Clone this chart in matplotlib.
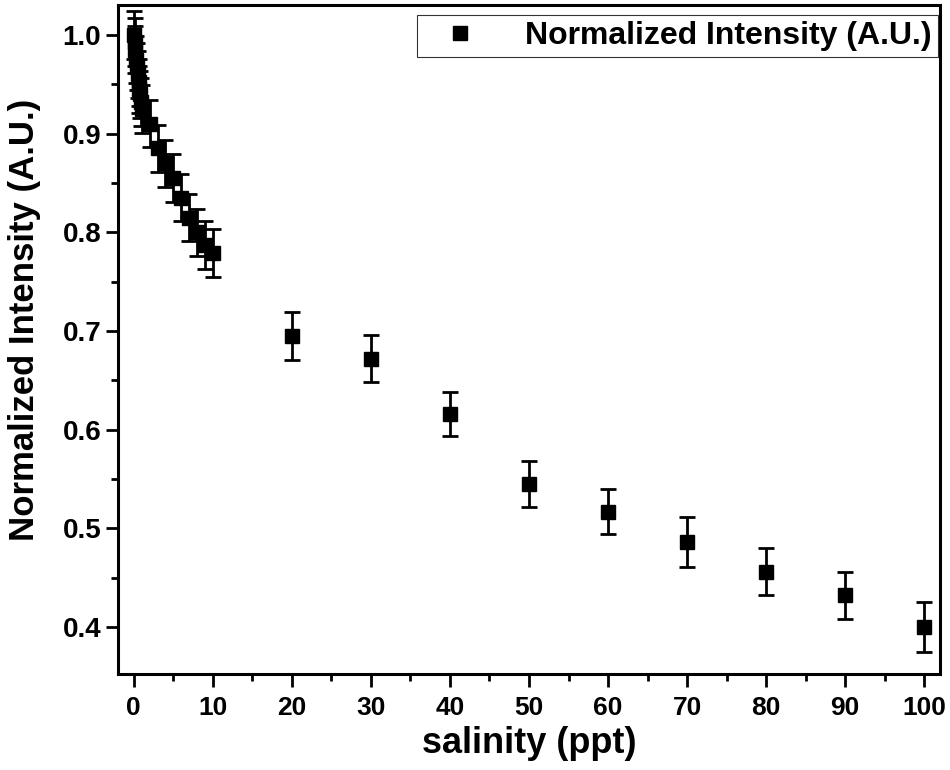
import matplotlib
matplotlib.use('Agg')
import matplotlib.pyplot as plt
from matplotlib.ticker import MultipleLocator, FormatStrFormatter
from matplotlib.lines import Line2D

plt.rcParams['font.family'] = ['Liberation Sans', 'DejaVu Sans']
plt.rcParams['font.weight'] = 'bold'

# salinity (ppt) and normalized intensity
salinity = [0, 0.1, 0.2, 0.3, 0.4, 0.5, 0.6, 0.7, 0.8, 0.9, 1.0,
            2, 3, 4, 5, 6, 7, 8, 9, 10,
            20, 30, 40, 50, 60, 70, 80, 90, 100]
intensity = [1.0, 0.993, 0.985, 0.975, 0.968, 0.96, 0.952, 0.945, 0.94, 0.932, 0.925,
             0.91, 0.885, 0.87, 0.855, 0.835, 0.815, 0.80, 0.787, 0.779,
             0.695, 0.672, 0.616, 0.545, 0.517, 0.486, 0.456, 0.432, 0.400]
error = [0.024] * 20 + [0.024, 0.024, 0.022, 0.023, 0.023, 0.025, 0.024, 0.024, 0.025]

fig = plt.figure(figsize=(9.5, 7.7), dpi=100)
ax = fig.add_axes([0.1242, 0.1247, 0.8653, 0.8688])

ax.errorbar(salinity, intensity, yerr=error, fmt='s', color='black',
            markersize=10.5, elinewidth=2, capsize=6, capthick=2)

ax.set_xlim(-2, 102)
ax.set_ylim(0.3524, 1.0304)
ax.xaxis.set_major_locator(MultipleLocator(10))
ax.xaxis.set_minor_locator(MultipleLocator(5))
ax.yaxis.set_major_locator(MultipleLocator(0.1))
ax.yaxis.set_minor_locator(MultipleLocator(0.05))
ax.yaxis.set_major_formatter(FormatStrFormatter('%.1f'))

ax.tick_params(which='major', direction='out', length=9, width=2)
ax.tick_params(which='minor', direction='out', length=5, width=2)
ax.tick_params(axis='y', labelsize=20, pad=3)
ax.tick_params(axis='x', labelsize=19, pad=7)
for s in ax.spines.values():
    s.set_linewidth(2.2)

ax.set_xlabel('salinity (ppt)', fontsize=26, fontweight='bold', labelpad=4)
ax.set_ylabel('Normalized Intensity (A.U.)', fontsize=25, fontweight='bold')
ax.yaxis.set_label_coords(-0.094, 0.53)

handle = Line2D([], [], linestyle='none', marker='s', color='black', markersize=10.5)
leg = ax.legend([handle], ['Normalized Intensity (A.U.)'], loc='upper right',
                bbox_to_anchor=(0.997, 0.985), fontsize=23, frameon=True,
                fancybox=False, handlelength=2.3, handletextpad=0.9,
                borderpad=0.18, borderaxespad=0)
leg.get_frame().set_edgecolor('black')
leg.get_frame().set_linewidth(0.8)

fig.savefig('out.png', dpi=100)
